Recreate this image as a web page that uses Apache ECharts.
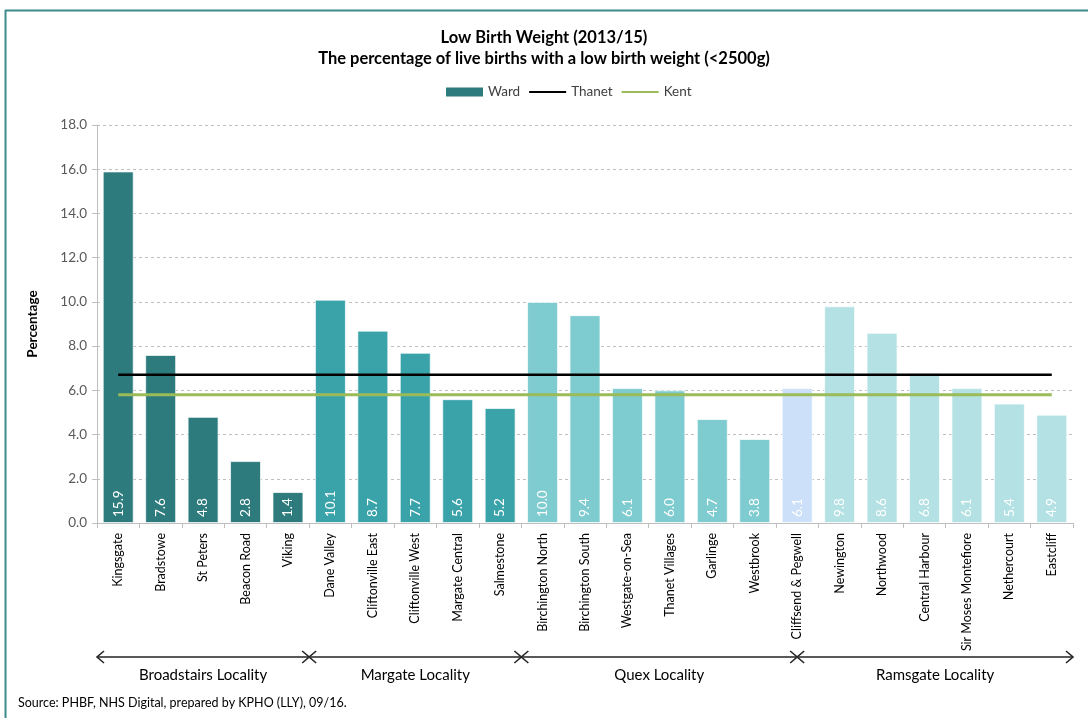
<!DOCTYPE html>
<html>
<head>
<meta charset="utf-8">
<title>Low Birth Weight (2013/15)</title>
<script src="https://cdn.jsdelivr.net/npm/echarts@6/dist/echarts.min.js"></script>
<style>
  html, body { margin: 0; padding: 0; background: #ffffff; }
  #chart { width: 1088px; height: 718px; }
</style>
</head>
<body>
<div id="chart"></div>
<script>
// Wards of Thanet, in locality order
const wards = [
  'Kingsgate', 'Bradstowe', 'St Peters', 'Beacon Road', 'Viking',
  'Dane Valley', 'Cliftonville East', 'Cliftonville West', 'Margate Central', 'Salmestone',
  'Birchington North', 'Birchington South', 'Westgate-on-Sea', 'Thanet Villages', 'Garlinge', 'Westbrook', 'Cliffsend & Pegwell',
  'Newington', 'Northwood', 'Central Harbour', 'Sir Moses Montefiore', 'Nethercourt', 'Eastcliff'
];

// % of live births under 2500g, per ward
const wardRates = [
  15.9, 7.6, 4.8, 2.8, 1.4,
  10.1, 8.7, 7.7, 5.6, 5.2,
  10.0, 9.4, 6.1, 6.0, 4.7, 3.8, 6.1,
  9.8, 8.6, 6.8, 6.1, 5.4, 4.9
];

// Locality each ward belongs to (Cliffsend & Pegwell straddles Quex and Ramsgate)
const wardLocality = [
  'broadstairs', 'broadstairs', 'broadstairs', 'broadstairs', 'broadstairs',
  'margate', 'margate', 'margate', 'margate', 'margate',
  'quex', 'quex', 'quex', 'quex', 'quex', 'quex', 'split',
  'ramsgate', 'ramsgate', 'ramsgate', 'ramsgate', 'ramsgate', 'ramsgate'
];

// Comparator rates
const thanetRate = 6.7;
const kentRate = 5.8;

// Locality spans along the ward axis, in units of ward slots
const localityNames = ['Broadstairs Locality', 'Margate Locality', 'Quex Locality', 'Ramsgate Locality'];
const localityStart = [0, 5, 10, 16.5];
const localityEnd = [5, 10, 16.5, 23];

const yTicks = { min: 0, max: 18, step: 2 };

const localityColors = {
  broadstairs: '#2E7B7D',
  margate: '#3AA3AA',
  quex: '#7ECBD0',
  split: '#CDE0F9',
  ramsgate: '#B4E1E3'
};

const FONT = 'Lato, "Liberation Sans", sans-serif';
const chart = echarts.init(document.getElementById('chart'), null, { renderer: 'canvas' });

// Hide the marker dot on line legend entries, keeping only the stroke
const noDot = { color: 'rgba(0,0,0,0)', borderWidth: 0, opacity: 0 };

const option = {
  backgroundColor: '#ffffff',
  animation: false,
  title: {
    text: 'Low Birth Weight (2013/15)\nThe percentage of live births with a low birth weight (<2500g)',
    left: 'center',
    top: 22,
    textStyle: { fontFamily: FONT, fontSize: 16.5, fontWeight: 'bold', color: '#000000', lineHeight: 21 }
  },
  legend: {
    top: 80,
    left: 441,
    itemGap: 8,
    itemWidth: 37,
    itemHeight: 9,
    textStyle: { fontFamily: FONT, fontSize: 13.5, color: '#404040' },
    data: [
      { name: 'Ward', icon: 'rect', itemStyle: { color: localityColors.broadstairs } },
      { name: 'Thanet', itemStyle: noDot },
      { name: 'Kent', itemStyle: noDot }
    ]
  },
  grid: { left: 97, right: 15, top: 125, bottom: 195, containLabel: false },
  xAxis: {
    type: 'category',
    data: wards,
    axisLine: { show: true, lineStyle: { color: '#BFBFBF', width: 1 } },
    axisTick: { show: true, alignWithLabel: false, length: 5, lineStyle: { color: '#BFBFBF' } },
    axisLabel: {
      interval: 0,
      rotate: 90,
      margin: 10,
      fontFamily: FONT,
      fontSize: 12.5,
      color: '#000000'
    }
  },
  yAxis: {
    type: 'value',
    min: yTicks.min,
    max: yTicks.max,
    interval: yTicks.step,
    name: 'Percentage',
    nameLocation: 'middle',
    nameGap: 57,
    nameRotate: 90,
    nameTextStyle: { fontFamily: FONT, fontSize: 13.5, fontWeight: 'bold', color: '#000000' },
    axisLine: { show: true, lineStyle: { color: '#BFBFBF', width: 1 } },
    axisTick: { show: true, length: 5, lineStyle: { color: '#BFBFBF' } },
    axisLabel: {
      margin: 10,
      fontFamily: FONT,
      fontSize: 13.5,
      color: '#595959',
      formatter: v => v.toFixed(1)
    },
    splitLine: { show: true, lineStyle: { color: '#BFBFBF', type: [3, 3], width: 1 } }
  },
  series: [
    {
      name: 'Ward',
      type: 'bar',
      barCategoryGap: '27%',
      itemStyle: { color: localityColors.broadstairs },
      data: wardRates.map((v, i) => ({
        value: v,
        itemStyle: {
          color: localityColors[wardLocality[i]],
          borderColor: 'rgba(255,255,255,0.7)',
          borderWidth: 1
        }
      })),
      label: {
        show: true,
        position: 'insideBottom',
        rotate: 90,
        align: 'left',
        verticalAlign: 'middle',
        distance: 6,
        fontFamily: FONT,
        fontSize: 13.5,
        color: '#ffffff',
        formatter: p => p.value.toFixed(1)
      },
      z: 2
    },
    {
      name: 'Thanet',
      type: 'line',
      data: wards.map(() => thanetRate),
      symbol: 'none',
      lineStyle: { color: '#000000', width: 2.5 },
      itemStyle: { color: '#000000' },
      z: 4
    },
    {
      name: 'Kent',
      type: 'line',
      data: wards.map(() => kentRate),
      symbol: 'none',
      lineStyle: { color: '#9BBB59', width: 3 },
      itemStyle: { color: '#9BBB59' },
      z: 3
    }
  ]
};

chart.setOption(option);

// Frame, locality arrows and source note, placed from the ward axis
function drawAnnotations() {
  const c0 = chart.convertToPixel({ xAxisIndex: 0 }, 0);
  const c1 = chart.convertToPixel({ xAxisIndex: 0 }, 1);
  const step = c1 - c0;
  const edge0 = c0 - step / 2;
  const slotX = u => edge0 + u * step;

  const arrowY = 657;
  const labelY = 675;
  const head = 7;
  const lineColor = '#595959';
  const elements = [];

  // Frame along the top and left edges
  elements.push({
    type: 'line', shape: { x1: 5, y1: 10.5, x2: 1088, y2: 10.5 },
    style: { stroke: '#3C8A8D', lineWidth: 2 }, silent: true
  });
  elements.push({
    type: 'line', shape: { x1: 5.5, y1: 10, x2: 5.5, y2: 718 },
    style: { stroke: '#3C8A8D', lineWidth: 2 }, silent: true
  });

  localityNames.forEach((name, k) => {
    const xa = slotX(localityStart[k]);
    const xb = slotX(localityEnd[k]);
    elements.push({
      type: 'line', shape: { x1: xa, y1: arrowY, x2: xb, y2: arrowY },
      style: { stroke: lineColor, lineWidth: 2 }, silent: true
    });
    elements.push({
      type: 'polyline', shape: { points: [[xa + head, arrowY - head + 1], [xa, arrowY], [xa + head, arrowY + head - 1]] },
      style: { stroke: '#262626', lineWidth: 1.6, fill: null }, silent: true
    });
    elements.push({
      type: 'polyline', shape: { points: [[xb - head, arrowY - head + 1], [xb, arrowY], [xb - head, arrowY + head - 1]] },
      style: { stroke: '#262626', lineWidth: 1.6, fill: null }, silent: true
    });
    elements.push({
      type: 'text',
      x: (xa + xb) / 2,
      y: labelY,
      style: {
        text: name, fontFamily: FONT, fontSize: 15, fill: '#000000',
        align: 'center', verticalAlign: 'middle'
      },
      silent: true
    });
  });

  elements.push({
    type: 'text',
    x: 18,
    y: 703,
    style: {
      text: 'Source: PHBF, NHS Digital, prepared by KPHO (LLY), 09/16.',
      fontFamily: FONT, fontSize: 12.5, fill: '#000000',
      align: 'left', verticalAlign: 'middle'
    },
    silent: true
  });

  chart.setOption({ graphic: { elements: elements } });
}

drawAnnotations();
</script>
</body>
</html>
